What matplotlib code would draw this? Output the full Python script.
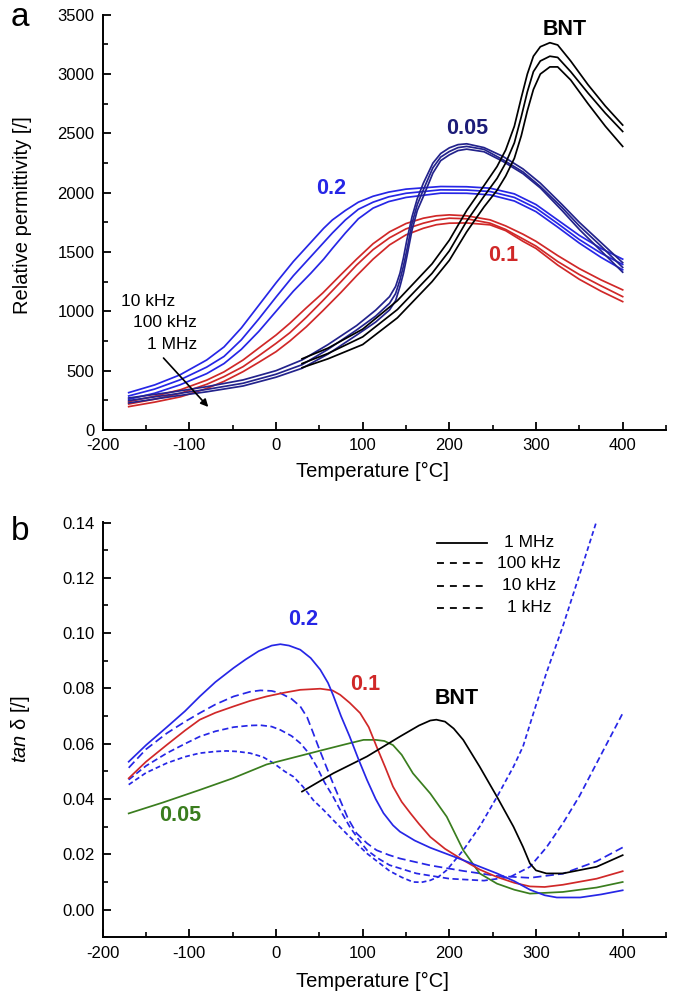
import matplotlib
matplotlib.use("Agg")
import matplotlib.pyplot as plt
from matplotlib.ticker import MultipleLocator, FormatStrFormatter

plt.rcParams['font.family'] = ['Liberation Sans', 'DejaVu Sans']
plt.rcParams['axes.unicode_minus'] = False
plt.rcParams['mathtext.fontset'] = 'custom'
plt.rcParams['mathtext.it'] = 'Liberation Sans:italic'
plt.rcParams['mathtext.rm'] = 'Liberation Sans'
plt.rcParams['lines.scale_dashes'] = False

# ---------------- Panel a : relative permittivity ----------------
T_bnt = [30, 60, 100, 140, 180, 200, 220, 240, 255, 265, 275, 283, 290, 297, 305, 316, 325, 340, 360, 380, 400]
eps_bnt_10k = [600, 690, 850, 1090, 1400, 1600, 1850, 2060, 2220, 2360, 2560, 2800, 3000, 3150, 3230, 3264, 3245, 3110, 2910, 2730, 2570]
eps_bnt_100k = [560, 645, 785, 1015, 1320, 1510, 1760, 1970, 2120, 2250, 2420, 2640, 2850, 3020, 3110, 3150, 3140, 3020, 2840, 2670, 2516]
eps_bnt_1M = [525, 600, 720, 945, 1250, 1430, 1670, 1880, 2020, 2140, 2290, 2480, 2690, 2870, 3000, 3060, 3060, 2950, 2750, 2560, 2390]

T_005 = [-170, -120, -80, -38, 0, 30, 60, 93, 115, 131, 138, 143, 147, 151, 157, 163, 170, 181, 190, 200, 210, 220, 240, 262, 285, 305, 330, 350, 375, 400]
eps_005_10k = [270, 320, 365, 422, 500, 590, 720, 880, 1010, 1124, 1210, 1321, 1450, 1602, 1799, 1950, 2080, 2249, 2330, 2378, 2405, 2412, 2380, 2305, 2200, 2080, 1900, 1750, 1580, 1410]
eps_005_100k = [248, 300, 342, 394, 470, 550, 680, 843, 960, 1068, 1150, 1265, 1380, 1518, 1743, 1900, 2024, 2210, 2300, 2347, 2380, 2390, 2365, 2277, 2175, 2052, 1875, 1720, 1550, 1370]
eps_005_1M = [228, 282, 322, 371, 445, 520, 640, 800, 910, 1012, 1090, 1209, 1320, 1462, 1687, 1850, 1968, 2165, 2270, 2319, 2355, 2367, 2345, 2263, 2160, 2040, 1850, 1690, 1510, 1330]

T_02 = [-170, -140, -111, -80, -60, -40, -20, 0, 20, 40, 55, 65, 80, 95, 112, 130, 150, 190, 220, 247, 275, 300, 325, 350, 375, 400]
eps_02_10k = [315, 380, 464, 590, 700, 860, 1050, 1240, 1420, 1580, 1700, 1770, 1850, 1920, 1970, 2005, 2030, 2052, 2050, 2038, 1990, 1900, 1770, 1640, 1530, 1440]
eps_02_100k = [287, 345, 422, 530, 620, 760, 935, 1120, 1300, 1460, 1580, 1660, 1770, 1860, 1920, 1965, 1995, 2024, 2022, 2010, 1960, 1870, 1740, 1605, 1490, 1395]
eps_02_1M = [259, 310, 380, 475, 560, 680, 830, 1000, 1170, 1320, 1440, 1530, 1660, 1780, 1870, 1925, 1960, 1996, 1995, 1982, 1930, 1840, 1710, 1575, 1455, 1350]

T_01 = [-170, -140, -110, -80, -60, -38, -20, 0, 16, 35, 54, 75, 93, 112, 131, 150, 170, 185, 200, 220, 247, 265, 285, 300, 325, 350, 375, 400]
eps_01_10k = [239, 285, 340, 420, 490, 590, 690, 800, 900, 1030, 1155, 1310, 1440, 1570, 1670, 1740, 1785, 1805, 1813, 1805, 1771, 1720, 1650, 1590, 1470, 1360, 1265, 1181]
eps_01_100k = [219, 260, 310, 385, 450, 534, 625, 730, 820, 950, 1090, 1250, 1390, 1520, 1620, 1695, 1743, 1770, 1785, 1780, 1743, 1690, 1610, 1550, 1420, 1310, 1215, 1124]
eps_01_1M = [197, 235, 280, 350, 410, 492, 570, 660, 750, 870, 1005, 1160, 1300, 1440, 1560, 1645, 1700, 1730, 1743, 1745, 1729, 1680, 1590, 1530, 1390, 1270, 1170, 1082]

# ---------------- Panel b : tan delta ----------------
T_tan_02 = [-170, -150, -126, -105, -88, -70, -49, -35, -20, -5, 5, 15, 28, 40, 51, 60, 66, 75, 85, 95, 105, 115, 124, 135, 143, 160, 178, 216, 255, 275, 293, 310, 324, 351, 375, 400]
tan_02_1M = [0.0535, 0.0595, 0.066, 0.0718, 0.0771, 0.0823, 0.0874, 0.0905, 0.0935, 0.0955, 0.0960, 0.0955, 0.0940, 0.0910, 0.0868, 0.0820, 0.0775, 0.070, 0.0626, 0.0545, 0.0469, 0.040, 0.0349, 0.0305, 0.0282, 0.025, 0.0224, 0.0179, 0.0131, 0.0103, 0.0072, 0.0052, 0.0044, 0.0044, 0.0055, 0.0070]

T_tan_01 = [-170, -150, -126, -105, -88, -70, -49, -30, -11, 10, 28, 51, 65, 74, 85, 97, 107, 116, 126, 135, 145, 155, 165, 178, 195, 216, 235, 255, 275, 293, 310, 331, 370, 400]
tan_01_1M = [0.0475, 0.0535, 0.0596, 0.0648, 0.0687, 0.0712, 0.0735, 0.0755, 0.0771, 0.0785, 0.0795, 0.0799, 0.0793, 0.0777, 0.0748, 0.0711, 0.066, 0.059, 0.0515, 0.0445, 0.039, 0.0349, 0.031, 0.0263, 0.022, 0.0179, 0.0145, 0.0118, 0.0097, 0.0084, 0.0082, 0.0090, 0.0112, 0.0139]

T_tan_005 = [-170, -130, -88, -50, -11, 20, 51, 80, 101, 115, 125, 135, 145, 158, 178, 197, 216, 235, 255, 275, 293, 331, 370, 400]
tan_005_1M = [0.0348, 0.0388, 0.0433, 0.0475, 0.0525, 0.055, 0.0575, 0.0598, 0.0614, 0.0614, 0.0610, 0.0595, 0.056, 0.0493, 0.042, 0.0336, 0.0215, 0.0131, 0.0094, 0.0072, 0.0058, 0.0064, 0.0080, 0.0100]

T_tan_bnt = [30, 66, 105, 143, 165, 178, 185, 195, 205, 216, 235, 255, 274, 285, 293, 300, 312, 331, 370, 400]
tan_bnt_1M = [0.0427, 0.0493, 0.0554, 0.0626, 0.0666, 0.0684, 0.0687, 0.0680, 0.0655, 0.0614, 0.0517, 0.0408, 0.030, 0.0227, 0.0167, 0.0142, 0.0131, 0.0131, 0.0155, 0.0197]

T_tan_02_100k = [-170, -150, -126, -105, -88, -70, -49, -30, -18, -5, 5, 18, 28, 36, 43, 50, 58, 66, 74, 83, 93, 105, 116, 130, 143, 178, 216, 255, 293, 331, 370, 400]
tan_02_100k = [0.0513, 0.058, 0.0638, 0.0680, 0.0711, 0.0742, 0.0771, 0.0788, 0.0793, 0.0791, 0.0783, 0.0762, 0.0735, 0.0695, 0.0638, 0.058, 0.0517, 0.0455, 0.0396, 0.033, 0.0276, 0.0240, 0.0215, 0.0198, 0.0185, 0.0160, 0.0140, 0.0122, 0.0115, 0.0130, 0.0175, 0.0225]

T_tan_02_10k = [-170, -150, -126, -105, -88, -70, -49, -30, -18, -5, 5, 18, 28, 38, 47, 56, 66, 75, 85, 95, 105, 118, 131, 162, 200, 240, 270, 293, 312, 331, 350, 370, 385, 400]
tan_02_10k = [0.047, 0.052, 0.0566, 0.060, 0.0626, 0.0645, 0.066, 0.0666, 0.0667, 0.0662, 0.065, 0.0628, 0.0602, 0.0565, 0.0517, 0.046, 0.0408, 0.0355, 0.030, 0.0255, 0.0215, 0.0185, 0.0161, 0.0131, 0.0112, 0.0105, 0.0118, 0.0155, 0.0225, 0.0312, 0.041, 0.053, 0.062, 0.071]

T_tan_02_1k = [-170, -150, -126, -105, -88, -70, -57, -45, -30, -15, -3, 10, 20, 31, 43, 55, 66, 85, 105, 131, 145, 158, 168, 178, 188, 197, 216, 235, 255, 274, 285, 298, 312, 331, 351, 370]
tan_02_1k = [0.0452, 0.0495, 0.053, 0.0553, 0.0566, 0.0572, 0.0574, 0.0572, 0.0566, 0.0552, 0.053, 0.050, 0.0481, 0.0445, 0.0396, 0.036, 0.0324, 0.0263, 0.0203, 0.0140, 0.0117, 0.0100, 0.0099, 0.0106, 0.0120, 0.0143, 0.0215, 0.030, 0.0408, 0.0517, 0.059, 0.072, 0.0856, 0.1025, 0.1219, 0.1406]

legend_labels = ['1 MHz', '100 kHz', '10 kHz', '1 kHz']

C_BLUE = '#2626e6'
C_NAVY = '#23238c'
C_RED = '#d02828'
C_GREEN = '#3a7d1e'
C_BLACK = '#000000'

W, H = 675, 996
fig = plt.figure(figsize=(W / 100, H / 100), dpi=100)
L = 102.7 / W
AW = (666 - 102.7) / W
axa = fig.add_axes([L, 1 - 430 / H, AW, (430 - 14.7) / H])
axb = fig.add_axes([L, 1 - 937.3 / H, AW, (937.3 - 521.7) / H])

LW = 1.25


def style(ax):
    for s in ['top', 'right']:
        ax.spines[s].set_visible(False)
    for s in ['left', 'bottom']:
        ax.spines[s].set_linewidth(1.4)
    ax.tick_params(which='major', direction='in', length=6, width=1.3, labelsize=12, pad=6)
    ax.tick_params(which='minor', direction='in', length=3.5, width=1.2)
    ax.xaxis.set_major_locator(MultipleLocator(100))
    ax.xaxis.set_minor_locator(MultipleLocator(50))
    ax.set_xlim(-200, 450)


# Panel a
style(axa)
axa.set_ylim(0, 3500)
axa.yaxis.set_major_locator(MultipleLocator(500))
axa.yaxis.set_minor_locator(MultipleLocator(250))
for y in (eps_02_10k, eps_02_100k, eps_02_1M):
    axa.plot(T_02, y, color=C_BLUE, lw=LW)
for y in (eps_01_10k, eps_01_100k, eps_01_1M):
    axa.plot(T_01, y, color=C_RED, lw=LW)
for y in (eps_005_10k, eps_005_100k, eps_005_1M):
    axa.plot(T_005, y, color=C_NAVY, lw=LW)
for y in (eps_bnt_10k, eps_bnt_100k, eps_bnt_1M):
    axa.plot(T_bnt, y, color=C_BLACK, lw=LW)

axa.text(333, 3379, 'BNT', fontsize=15.5, fontweight='bold', color='black', ha='center', va='center')
axa.text(221, 2544, '0.05', fontsize=15.5, fontweight='bold', color='#1c1c78', ha='center', va='center')
axa.text(64, 2038, '0.2', fontsize=15.5, fontweight='bold', color=C_BLUE, ha='center', va='center')
axa.text(262, 1467, '0.1', fontsize=15.5, fontweight='bold', color=C_RED, ha='center', va='center')
axa.text(-179, 1080, '10 kHz', fontsize=12.5, ha='left', va='center')
axa.text(-165, 902, '100 kHz', fontsize=12.5, ha='left', va='center')
axa.text(-149, 717, '1 MHz', fontsize=12.5, ha='left', va='center')
axa.annotate('', xy=(-76, 177), xytext=(-132, 624),
             arrowprops=dict(arrowstyle='-|>', color='black', lw=1.2, mutation_scale=11))
axa.set_xlabel('Temperature [°C]', fontsize=14.5)
axa.set_ylabel('Relative permittivity [/]', fontsize=14.5)
axa.xaxis.set_label_coords(0.479, -0.077)
axa.yaxis.set_label_coords(-0.125, 0.518)

# Panel b
style(axb)
axb.set_ylim(-0.01, 0.1403)
axb.set_yticks([0.00, 0.02, 0.04, 0.06, 0.08, 0.10, 0.12, 0.14])
axb.yaxis.set_minor_locator(MultipleLocator(0.01))
axb.yaxis.set_major_formatter(FormatStrFormatter('%.2f'))

axb.plot(T_tan_02_100k, tan_02_100k, color=C_BLUE, lw=LW, dashes=(6, 3))
axb.plot(T_tan_02_10k, tan_02_10k, color=C_BLUE, lw=LW, dashes=(4.5, 2.5))
axb.plot(T_tan_02_1k, tan_02_1k, color=C_BLUE, lw=LW, dashes=(3.5, 2.2))
axb.plot(T_tan_005, tan_005_1M, color=C_GREEN, lw=LW)
axb.plot(T_tan_01, tan_01_1M, color=C_RED, lw=LW)
axb.plot(T_tan_bnt, tan_bnt_1M, color=C_BLACK, lw=LW)
axb.plot(T_tan_02, tan_02_1M, color=C_BLUE, lw=LW)

axb.text(31, 0.105, '0.2', fontsize=15.5, fontweight='bold', color=C_BLUE, ha='center', va='center')
axb.text(103, 0.0814, '0.1', fontsize=15.5, fontweight='bold', color=C_RED, ha='center', va='center')
axb.text(208, 0.0763, 'BNT', fontsize=15.5, fontweight='bold', color='black', ha='center', va='center')
axb.text(-111, 0.0342, '0.05', fontsize=15.5, fontweight='bold', color=C_GREEN, ha='center', va='center')

# legend (drawn manually, axes fraction)
leg_y = [0.9488, 0.9006, 0.8453, 0.7924]
leg_dash = [None, (5, 4.3), (5, 4.3), (5, 4.3)]
for lab, yy, d in zip(legend_labels, leg_y, leg_dash):
    if d is None:
        axb.plot([0.5935, 0.6823], [yy, yy], transform=axb.transAxes, color='black', lw=1.3)
    else:
        axb.plot([0.5935, 0.6823], [yy, yy], transform=axb.transAxes, color='black', lw=1.3, dashes=d)
    axb.text(0.757, yy, lab, transform=axb.transAxes, fontsize=12.5, ha='center', va='center')

axb.set_xlabel('Temperature [°C]', fontsize=14.5)
axb.set_ylabel(r'$\mathit{tan}$ δ [/]', fontsize=14.5)
axb.xaxis.set_label_coords(0.479, -0.0835)
axb.yaxis.set_label_coords(-0.125, 0.5)

fig.text(20 / W, 1 - 18 / H, 'a', fontsize=24, ha='center', va='center')
fig.text(20 / W, 1 - 531 / H, 'b', fontsize=24, ha='center', va='center')

fig.savefig('out.png', dpi=100)
